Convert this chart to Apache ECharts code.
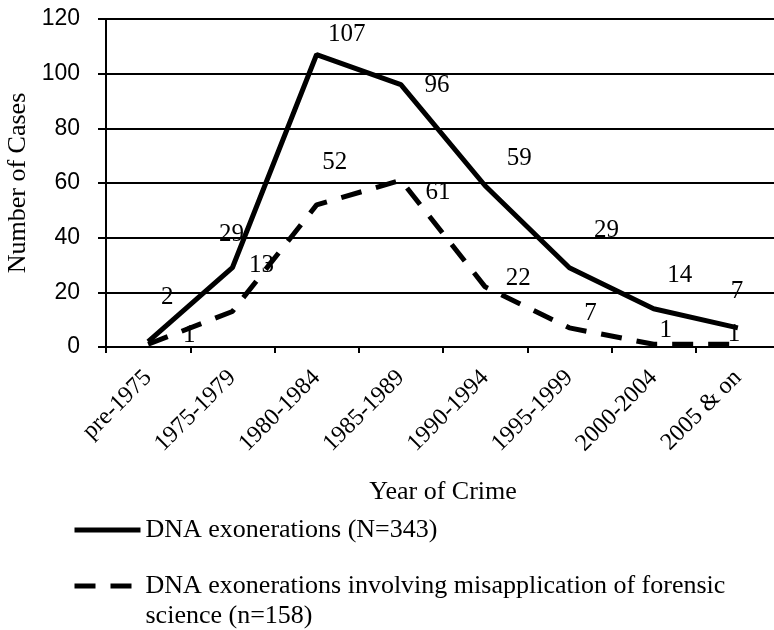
<!DOCTYPE html>
<html>
<head>
<meta charset="utf-8">
<title>DNA exonerations by year of crime</title>
<script src="https://cdn.jsdelivr.net/npm/echarts@6/dist/echarts.min.js"></script>
<style>
  html, body { margin: 0; padding: 0; background: #fff; }
  #chart { width: 774px; height: 630px; }
</style>
</head>
<body>
<div id="chart"></div>
<script>
// data
const categories = ['pre-1975', '1975-1979', '1980-1984', '1985-1989', '1990-1994', '1995-1999', '2000-2004', '2005 & on'];
const allCases = [2, 29, 107, 96, 59, 29, 14, 7];
const forensicCases = [1, 13, 52, 61, 22, 7, 1, 1];
const yTicks = [0, 20, 40, 60, 80, 100, 120];
const seriesNames = ['DNA exonerations (N=343)', 'DNA exonerations involving misapplication of forensic science (n=158)'];

// where each value label sits relative to its point (the labels are scattered like in Excel)
const allLabelOffsets = [[19, -44], [-1, -33], [30, -20], [36, 1], [34, -27], [37, -37], [26, -33], [-1, -36]];
const forensicLabelOffsets = [[41, -9], [29, -46], [18, -42], [37, 12], [33, -8], [21, -14], [12, -14], [-4, -10]];

const serif = 'Liberation Serif';
const black = '#000';
const lineWidth = 5;
const dash = [21, 15];

const myChart = echarts.init(document.getElementById('chart'), null, { renderer: 'canvas' });

function makeData(values, offsets) {
  return values.map((v, i) => ({
    value: v,
    label: { offset: offsets[i] }
  }));
}

function lineSeries(name, values, offsets, type) {
  return {
    name: name,
    type: 'line',
    data: makeData(values, offsets),
    symbol: 'circle',
    symbolSize: 1,
    itemStyle: { color: 'transparent', borderWidth: 0 },
    lineStyle: { color: black, width: lineWidth, type: type },
    label: {
      show: true,
      position: 'inside',
      color: black,
      fontFamily: serif,
      fontSize: 25,
      textBorderWidth: 0
    },
    emphasis: { disabled: true }
  };
}

function legendFor(name, top, type, formatter) {
  const legend = {
    data: [name],
    left: 72,
    top: top,
    padding: 0,
    itemWidth: 66,
    itemHeight: 14,
    selectedMode: false,
    itemStyle: { color: 'transparent', borderWidth: 0 },
    lineStyle: { color: black, width: lineWidth, type: type },
    textStyle: { fontFamily: serif, fontSize: 26, color: black, lineHeight: 30 }
  };
  if (formatter) legend.formatter = formatter;
  return legend;
}

const option = {
  animation: false,
  backgroundColor: '#fff',
  grid: {
    left: 106,
    top: 19,
    width: 674,
    height: 328,
    containLabel: false,
    outerBoundsMode: 'none'
  },
  legend: [
    legendFor(seriesNames[0], 515, 'solid'),
    // blank first line keeps the icon level with the first text line
    legendFor(seriesNames[1], 541, dash, function () {
      return '\nDNA exonerations involving misapplication of forensic\nscience (n=158)';
    })
  ],
  xAxis: {
    type: 'category',
    data: categories,
    boundaryGap: true,
    name: 'Year of Crime',
    nameLocation: 'middle',
    nameGap: 132,
    nameTextStyle: { fontFamily: serif, fontSize: 26, color: black },
    axisLine: { lineStyle: { color: black, width: 2 } },
    axisTick: { show: true, length: 6, lineStyle: { color: black, width: 2 } },
    axisLabel: {
      rotate: 45,
      margin: 27,
      interval: 0,
      fontFamily: serif,
      fontSize: 24,
      color: black
    },
    splitLine: { show: false }
  },
  yAxis: {
    type: 'value',
    min: yTicks[0],
    max: yTicks[yTicks.length - 1],
    interval: yTicks[1] - yTicks[0],
    name: 'Number of Cases',
    nameLocation: 'middle',
    nameGap: 67,
    nameTextStyle: { fontFamily: serif, fontSize: 26, color: black },
    axisLine: { show: true, lineStyle: { color: black, width: 2 } },
    axisTick: { show: true, length: 8, lineStyle: { color: black, width: 2 } },
    axisLabel: {
      margin: 26,
      fontFamily: 'Liberation Sans',
      fontSize: 23,
      color: black
    },
    splitLine: { show: true, lineStyle: { color: black, width: 2 } }
  },
  series: [
    lineSeries(seriesNames[0], allCases, allLabelOffsets, 'solid'),
    lineSeries(seriesNames[1], forensicCases, forensicLabelOffsets, dash)
  ]
};

myChart.setOption(option);
</script>
</body>
</html>
